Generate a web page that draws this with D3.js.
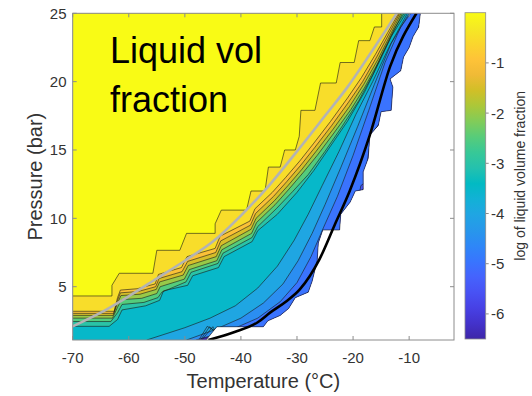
<!DOCTYPE html>
<html>
<head>
<meta charset="utf-8">
<script src="https://cdn.jsdelivr.net/npm/d3@7"></script>
<style>
  body { margin: 0; background: #fff; }
  text { font-family: "Liberation Sans", Arial, Helvetica, sans-serif; }
</style>
</head>
<body>
<svg id="chart" width="532" height="396"></svg>
<script>
// ---- data ----
const xTicks = [-70, -60, -50, -40, -30, -20, -10]
const yTicks = [5, 10, 15, 20, 25]
const cbTicks = [-6, -5, -4, -3, -2, -1]
const levels = [-6.5, -6, -5.5, -5, -4.5, -4, -3.5, -3, -2.5, -2, -1.5, -1, -0.5, 0]

// right edge of the region where a liquid fraction exists (white beyond it)
const dataEdge = [[-46.2, 1.1], [-44.3, 2.07], [-36, 2.07], [-35.2, 2.5], [-33, 2.9], [-31.5, 3.4], [-30.3, 4.2], [-28, 4.6], [-27.3, 5.4], [-26.4, 6.9], [-26.2, 8.2], [-25.4, 9.15], [-22.4, 9.15], [-22.2, 10.3], [-20.5, 11.2], [-19.6, 12.0], [-18.2, 12.1], [-18.2, 13.4], [-17.3, 14.4], [-17.0, 16.1], [-15.5, 16.8], [-15, 17.8], [-13.2, 17.9], [-12.9, 19.6], [-13.4, 20.2], [-11.5, 20.8], [-11, 21.8], [-10, 22.5], [-9.3, 23.3], [-8.3, 24.0], [-8.0, 25]]

// contour lines, one per level: [temperature, pressure]
const lvlM6 = [[-47.0, 1.1], [-45.0, 2.07], [-44, 1.3], [-35.5, 1.8], [-32.5, 2.8], [-30, 3.9], [-27, 4.9], [-25.8, 7.2], [-25.6, 8.7], [-21.9, 8.9], [-21.6, 10.5], [-19, 11.6], [-17.6, 12.5], [-16.8, 14.9], [-16.4, 16.3], [-14.6, 17.3], [-12.6, 17.6], [-12.3, 19.8], [-10.8, 21.5], [-9.5, 22.6], [-8.6, 23.5], [-7.6, 25]]
const lvlM55 = [[-47.2, 1.1], [-45.6, 2.07], [-44, 1.5], [-35.5, 1.8], [-32.5, 2.8], [-30, 3.9], [-27, 4.9], [-25.8, 7.2], [-25.6, 8.7], [-21.9, 8.9], [-21.6, 10.5], [-19, 11.6], [-17.6, 12.5], [-16.8, 14.9], [-16.4, 16.3], [-14.6, 17.3], [-12.6, 17.6], [-12.3, 19.8], [-10.8, 21.5], [-9.5, 22.6], [-8.6, 23.5], [-7.6, 25]]
const lvlM5 = [[-47.5, 1.1], [-46.0, 2.1], [-44, 1.6], [-35.5, 1.8], [-32.5, 2.8], [-30, 3.9], [-27, 4.9], [-25.8, 7.2], [-25.6, 8.7], [-21.9, 8.9], [-21.6, 10.5], [-19, 11.6], [-18.6, 12.4], [-17.9, 12.6], [-17.2, 14.9], [-16.4, 16.3], [-14.6, 17.3], [-12.6, 17.6], [-12.3, 19.8], [-10.8, 21.5], [-9.5, 22.6], [-8.6, 23.5], [-7.6, 25]]
const lvlM45 = [[-48.0, 1.1], [-42, 1.8], [-37, 2.7], [-33, 3.9], [-30, 5.3], [-27.5, 7.2], [-25.3, 9.3], [-22.8, 11.6], [-20, 14.6], [-17.2, 17.9], [-14.3, 21.4], [-11.5, 24.0], [-9.7, 25]]
const lvlM4 = [[-49.7, 1.1], [-45, 1.8], [-40, 2.7], [-36, 3.8], [-32.5, 5.2], [-29.8, 6.9], [-27.3, 8.9], [-25, 11.0], [-22.2, 13.7], [-19.2, 16.7], [-16.2, 19.8], [-13.2, 22.8], [-10.0, 25]]
const lvlM35 = [[-56.8, 1.1], [-50, 2.0], [-45.5, 2.7], [-41, 3.6], [-37, 4.9], [-33.5, 6.5], [-30.5, 8.4], [-28, 10.3], [-25.5, 12.4], [-22.5, 14.9], [-19.5, 17.6], [-16.5, 20.0], [-13.5, 22.6], [-10.3, 25]]
const lvlM3 = [[-70, 2.1], [-63.5, 2.1], [-62.0, 2.6], [-61.2, 3.3], [-57, 3.6], [-54.5, 4.0], [-53.8, 4.7], [-49.5, 5.1], [-48.6, 5.8], [-44, 6.4], [-43, 7.2], [-38, 8.3], [-37, 9.1], [-33.5, 10.3], [-30, 11.9], [-27, 13.5], [-24, 15.3], [-21, 17.1], [-18, 19.2], [-15.5, 21.3], [-13.2, 23.3], [-10.6, 25]]
const lvlM25 = [[-70, 2.45], [-63.2, 2.45], [-62.0, 3.1], [-61.2, 3.7], [-57.3, 3.85], [-54.8, 4.2], [-54.1, 4.6], [-49.8, 5.35], [-48.9, 6.05], [-44.1, 6.7], [-43.2, 7.45], [-38, 8.6], [-37, 9.4], [-33.7, 10.7], [-30.8, 11.95], [-28, 13.2], [-25, 14.9], [-22, 16.7], [-19, 18.6], [-16.5, 20.5], [-14.5, 22.3], [-12.6, 23.9], [-10.9, 25]]
const lvlM2 = [[-70, 2.7], [-62.9, 2.7], [-62.0, 3.5], [-61.3, 4.05], [-57.7, 4.15], [-55, 4.5], [-54.4, 5.0], [-50.1, 5.55], [-49.2, 6.25], [-44.3, 6.9], [-43.4, 7.7], [-38.1, 8.9], [-37.2, 9.7], [-33.9, 11.0], [-31.4, 12.15], [-28.9, 13.35], [-26.4, 14.6], [-23.4, 16.25], [-20.4, 17.95], [-17.9, 19.6], [-15.4, 21.5], [-13.2, 23.3], [-11.2, 25]]
const lvlM15 = [[-70, 2.9], [-62.8, 2.9], [-62.0, 3.8], [-61.4, 4.35], [-58, 4.45], [-55.1, 4.8], [-54.5, 5.35], [-50.3, 5.85], [-49.4, 6.55], [-44.4, 7.2], [-43.5, 8.0], [-38.2, 9.2], [-37.3, 10.0], [-34, 11.3], [-31.6, 12.4], [-29.1, 13.6], [-26.6, 14.9], [-23.6, 16.5], [-20.6, 18.2], [-18.1, 19.8], [-15.6, 21.6], [-13.4, 23.4], [-11.45, 25]]
const lvlM1 = [[-70, 3.05], [-62.7, 3.05], [-62.0, 4.0], [-61.5, 4.55], [-58.3, 4.65], [-55.2, 5.0], [-54.6, 5.6], [-50.5, 6.1], [-49.5, 6.85], [-44.5, 7.5], [-43.6, 8.35], [-38.3, 9.5], [-37.4, 10.35], [-34.2, 11.6], [-31.8, 12.7], [-29.3, 13.9], [-26.8, 15.2], [-23.8, 16.8], [-20.8, 18.5], [-18.3, 20.0], [-15.8, 21.8], [-13.6, 23.5], [-11.7, 25]]
const lvlM05 = [[-70, 3.2], [-62.6, 3.2], [-62.0, 4.2], [-61.5, 4.75], [-58.5, 4.85], [-55.3, 5.2], [-54.7, 5.9], [-50.6, 6.4], [-49.6, 7.2], [-44.6, 7.8], [-43.7, 8.7], [-38.4, 9.8], [-37.5, 10.7], [-34.4, 11.9], [-32, 13.0], [-29.5, 14.2], [-27, 15.5], [-24, 17.1], [-21, 18.8], [-18.5, 20.3], [-16, 22.0], [-13.8, 23.6], [-11.9, 25]]
const lvl0 = [[-70, 4.32], [-63.0, 4.32], [-63.0, 5.1], [-61.7, 5.98], [-55.7, 5.98], [-55.0, 7.66], [-50.9, 7.66], [-49.7, 8.9], [-44.6, 8.9], [-44.6, 9.6], [-43.5, 10.6], [-39.0, 10.6], [-38.2, 12.0], [-35.7, 12.0], [-35.1, 13.75], [-33.0, 13.75], [-32.2, 15.0], [-30.3, 15.0], [-29.6, 16.0], [-29.3, 17.9], [-26.8, 17.9], [-25.8, 19.9], [-23.0, 19.9], [-22.3, 21.4], [-19.8, 21.4], [-19.0, 23.0], [-17.0, 23.0], [-16.2, 24.0], [-14.9, 24.0], [-14.9, 25]]

// overlay curves
const grayCurve = [[-70, 2.1], [-65, 3.1], [-60, 4.3], [-55, 5.6], [-50, 6.9], [-45, 8.3], [-40, 10.2], [-35, 12.4], [-30, 14.9], [-25, 17.5], [-21, 19.6], [-17, 22.0], [-12.2, 25]]
const blackCurve = [[-45.8, 1.1], [-41, 1.7], [-37, 2.4], [-34.8, 3.1], [-32, 3.9], [-29.5, 4.8], [-26, 7], [-23.3, 9.5], [-20.6, 12], [-17, 16.1], [-13.4, 21.1], [-8.7, 25]]

// parula colormap (every third entry of the 64-step table)
const parula = [[0.2422, 0.1504, 0.6603], [0.2647, 0.1978, 0.7952], [0.2783, 0.2559, 0.8991], [0.2810, 0.3228, 0.9579], [0.2699, 0.3892, 0.9906], [0.2206, 0.4603, 0.9973], [0.1786, 0.5289, 0.9682], [0.1540, 0.5902, 0.9218], [0.1248, 0.6459, 0.8883], [0.0689, 0.6948, 0.8394], [0.0067, 0.7312, 0.7660], [0.1408, 0.7584, 0.6842], [0.2161, 0.7843, 0.5923], [0.3406, 0.8008, 0.4789], [0.5044, 0.7993, 0.3480], [0.6720, 0.7793, 0.2227], [0.8203, 0.7498, 0.1535], [0.9393, 0.7288, 0.2100], [0.9970, 0.7659, 0.2199], [0.9786, 0.8386, 0.1766], [0.9597, 0.9135, 0.1423], [0.9769, 0.9839, 0.0805]]

const contourLines = [lvlM6, lvlM55, lvlM5, lvlM45, lvlM4, lvlM35, lvlM3, lvlM25, lvlM2, lvlM15, lvlM1, lvlM05, lvl0]

// ---- layout ----
const plot = { left: 72.7, right: 454, top: 13.3, bottom: 340 }
const cbar = { left: 465, right: 485.7, top: 12.7, bottom: 339 }
const tDomain = [-70, -2]
const pDomain = [1.1, 25]
const cDomain = [-6.5, 0]

const x = d3.scaleLinear().domain(tDomain).range([plot.left, plot.right])
const y = d3.scaleLinear().domain(pDomain).range([plot.bottom, plot.top])
const cy = d3.scaleLinear().domain(cDomain).range([cbar.bottom, cbar.top])
const colorPos = d3.scaleLinear().domain(cDomain).range([0, 1])
const parulaColors = parula.map(c => d3.rgb(c[0] * 255, c[1] * 255, c[2] * 255))
const parulaScale = d3.scaleLinear()
  .domain(parula.map((_, i) => i / (parula.length - 1)))
  .range(parulaColors)
  .interpolate(d3.interpolateRgb)
const color = v => parulaScale(colorPos(v))

const svg = d3.select('#chart')
const defs = svg.append('defs')

defs.append('clipPath').attr('id', 'plotClip')
  .append('rect')
  .attr('x', plot.left).attr('y', plot.top)
  .attr('width', plot.right - plot.left).attr('height', plot.bottom - plot.top)

// close a line through the top-left of the plot so the area above/left of it is filled
const closeLeft = pts => pts.concat([[tDomain[0], pDomain[1]], [tDomain[0], pts[0][1]]])
const line = d3.line().x(d => x(d[0])).y(d => y(d[1]))

defs.append('clipPath').attr('id', 'dataClip')
  .append('path')
  .attr('d', line(closeLeft(dataEdge)) + 'Z')

const plotG = svg.append('g').attr('clip-path', 'url(#plotClip)')
const bandG = plotG.append('g').attr('clip-path', 'url(#dataClip)')

// filled bands, lowest level first
bandG.append('path')
  .attr('d', line(closeLeft(dataEdge)) + 'Z')
  .attr('fill', color(levels[0]))

bandG.selectAll('path.band')
  .data(contourLines)
  .join('path')
  .attr('class', 'band')
  .attr('d', d => line(closeLeft(d)) + 'Z')
  .attr('fill', (d, i) => color(levels[i + 1]))

bandG.selectAll('path.cline')
  .data(contourLines)
  .join('path')
  .attr('class', 'cline')
  .attr('d', d => line(d))
  .attr('fill', 'none')
  .attr('stroke', '#1a1a1a')
  .attr('stroke-width', 0.6)

plotG.append('path')
  .attr('d', line(dataEdge))
  .attr('fill', 'none')
  .attr('stroke', '#1a1a1a')
  .attr('stroke-width', 0.6)

const smooth = d3.line().x(d => x(d[0])).y(d => y(d[1])).curve(d3.curveMonotoneX)

plotG.append('path')
  .attr('d', smooth(grayCurve))
  .attr('fill', 'none')
  .attr('stroke', '#b3b3b3')
  .attr('stroke-width', 2.6)

plotG.append('path')
  .attr('d', smooth(blackCurve))
  .attr('fill', 'none')
  .attr('stroke', '#000')
  .attr('stroke-width', 2.6)

// ---- axes box and ticks (ticks inward, mirrored) ----
const axisColor = '#8c8c8c'
const textColor = '#333'
const tickLen = 4

svg.append('rect')
  .attr('x', plot.left).attr('y', plot.top)
  .attr('width', plot.right - plot.left).attr('height', plot.bottom - plot.top)
  .attr('fill', 'none').attr('stroke', axisColor).attr('stroke-width', 1)

const xt = svg.append('g')
xTicks.forEach(t => {
  xt.append('line').attr('x1', x(t)).attr('x2', x(t))
    .attr('y1', plot.bottom).attr('y2', plot.bottom - tickLen).attr('stroke', axisColor)
  xt.append('line').attr('x1', x(t)).attr('x2', x(t))
    .attr('y1', plot.top).attr('y2', plot.top + tickLen).attr('stroke', axisColor)
  xt.append('text').attr('x', x(t)).attr('y', 363)
    .attr('text-anchor', 'middle').attr('font-size', 15).attr('fill', textColor)
    .text(t)
})

const yt = svg.append('g')
yTicks.forEach(p => {
  yt.append('line').attr('x1', plot.left).attr('x2', plot.left + tickLen)
    .attr('y1', y(p)).attr('y2', y(p)).attr('stroke', axisColor)
  yt.append('line').attr('x1', plot.right).attr('x2', plot.right - tickLen)
    .attr('y1', y(p)).attr('y2', y(p)).attr('stroke', axisColor)
  yt.append('text').attr('x', 66.5).attr('y', y(p) + 5.5)
    .attr('text-anchor', 'end').attr('font-size', 15).attr('fill', textColor)
    .text(p)
})

svg.append('text')
  .attr('x', (plot.left + plot.right) / 2).attr('y', 388)
  .attr('text-anchor', 'middle').attr('font-size', 20).attr('fill', textColor)
  .text('Temperature (°C)')

svg.append('text')
  .attr('transform', `translate(42,${(plot.top + plot.bottom) / 2}) rotate(-90)`)
  .attr('text-anchor', 'middle').attr('font-size', 20).attr('fill', textColor)
  .text('Pressure (bar)')

svg.append('text').attr('x', 110).attr('y', 63)
  .attr('font-size', 36).attr('fill', '#000').text('Liquid vol')
svg.append('text').attr('x', 110).attr('y', 112)
  .attr('font-size', 36).attr('fill', '#000').text('fraction')

// ---- colorbar ----
const grad = defs.append('linearGradient').attr('id', 'parulaGrad')
  .attr('x1', 0).attr('y1', 1).attr('x2', 0).attr('y2', 0)
grad.selectAll('stop')
  .data(parulaColors)
  .join('stop')
  .attr('offset', (d, i) => i / (parulaColors.length - 1))
  .attr('stop-color', d => d.formatHex())

svg.append('rect')
  .attr('x', cbar.left).attr('y', cbar.top)
  .attr('width', cbar.right - cbar.left).attr('height', cbar.bottom - cbar.top)
  .attr('fill', 'url(#parulaGrad)')
  .attr('stroke', axisColor).attr('stroke-width', 0.8)

const ct = svg.append('g')
cbTicks.forEach(v => {
  ct.append('line').attr('x1', cbar.right).attr('x2', cbar.right + 3)
    .attr('y1', cy(v)).attr('y2', cy(v)).attr('stroke', axisColor)
  ct.append('text').attr('x', 491).attr('y', cy(v) + 5.5)
    .attr('font-size', 15).attr('fill', textColor)
    .text(v)
})

svg.append('text')
  .attr('transform', `translate(525,${(cbar.top + cbar.bottom) / 2}) rotate(-90)`)
  .attr('text-anchor', 'middle').attr('font-size', 14).attr('fill', textColor)
  .text('log of liquid volume fraction')
</script>
</body>
</html>
